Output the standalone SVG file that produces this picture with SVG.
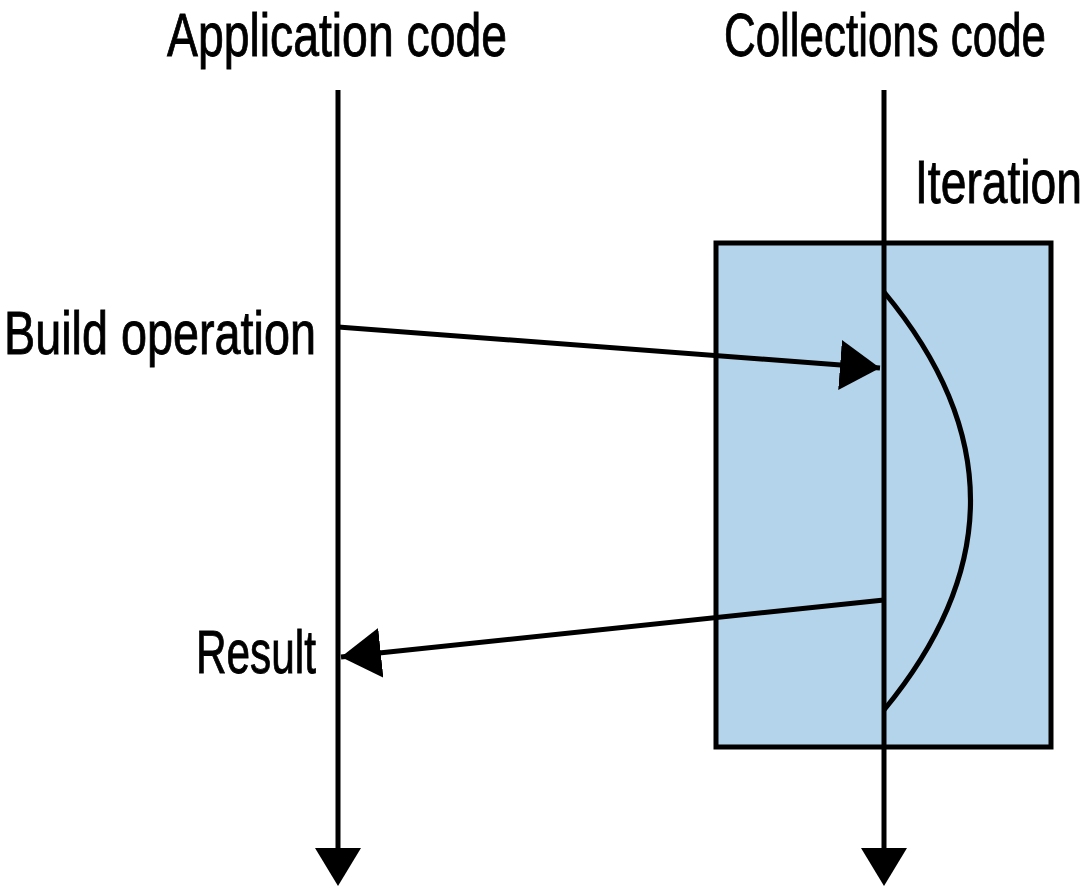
<svg xmlns="http://www.w3.org/2000/svg" width="1091" height="886" viewBox="0 0 1091 886">
<style>
.t{font-family:"Liberation Sans",Arial,sans-serif;font-size:61px;fill:#000;stroke:#000;stroke-width:0.9}
.ln{stroke:#000;stroke-width:5;fill:none}
</style>
<defs>
<marker id="ah" markerUnits="userSpaceOnUse" markerWidth="42" markerHeight="50" refX="40" refY="25" orient="auto" viewBox="0 0 42 50">
<path d="M0,0 L40,25 L0,50 Z" fill="#000"/>
</marker>
</defs>
<rect width="1091" height="886" fill="#fff"/>
<g id="iteration-box">
<rect x="716" y="243" width="335" height="504" fill="#b3d4ea" stroke="#000" stroke-width="5"/>
<text class="t" transform="scale(0.75,1)" x="1220" y="203" textLength="222.67" lengthAdjust="spacingAndGlyphs">Iteration</text>
</g>
<g id="application-code">
<text class="t" transform="scale(0.75,1)" x="222.67" y="56" textLength="453.33" lengthAdjust="spacingAndGlyphs">Application code</text>
</g>
<g id="collections-code">
<text class="t" transform="scale(0.75,1)" x="965.33" y="56" textLength="429.33" lengthAdjust="spacingAndGlyphs">Collections code</text>
</g>
<g id="labels">
<text class="t" transform="scale(0.75,1)" x="5.33" y="354" textLength="416" lengthAdjust="spacingAndGlyphs">Build operation</text>
<text class="t" transform="scale(0.75,1)" x="261.33" y="673" textLength="160" lengthAdjust="spacingAndGlyphs">Result</text>
</g>
<g id="connectors">
<line class="ln" x1="338" y1="90" x2="338" y2="848"/>
<path d="M315,848 L361,848 L338,886 Z" fill="#000"/>
<line class="ln" x1="884" y1="90" x2="884" y2="848"/>
<path d="M861,848 L907,848 L884,886 Z" fill="#000"/>
<path class="ln" d="M884,292 Q1057,500 884,710"/>
<line class="ln" x1="338" y1="327" x2="880" y2="368" marker-end="url(#ah)"/>
<line class="ln" x1="884" y1="600" x2="341" y2="657" marker-end="url(#ah)"/>
</g>
</svg>
